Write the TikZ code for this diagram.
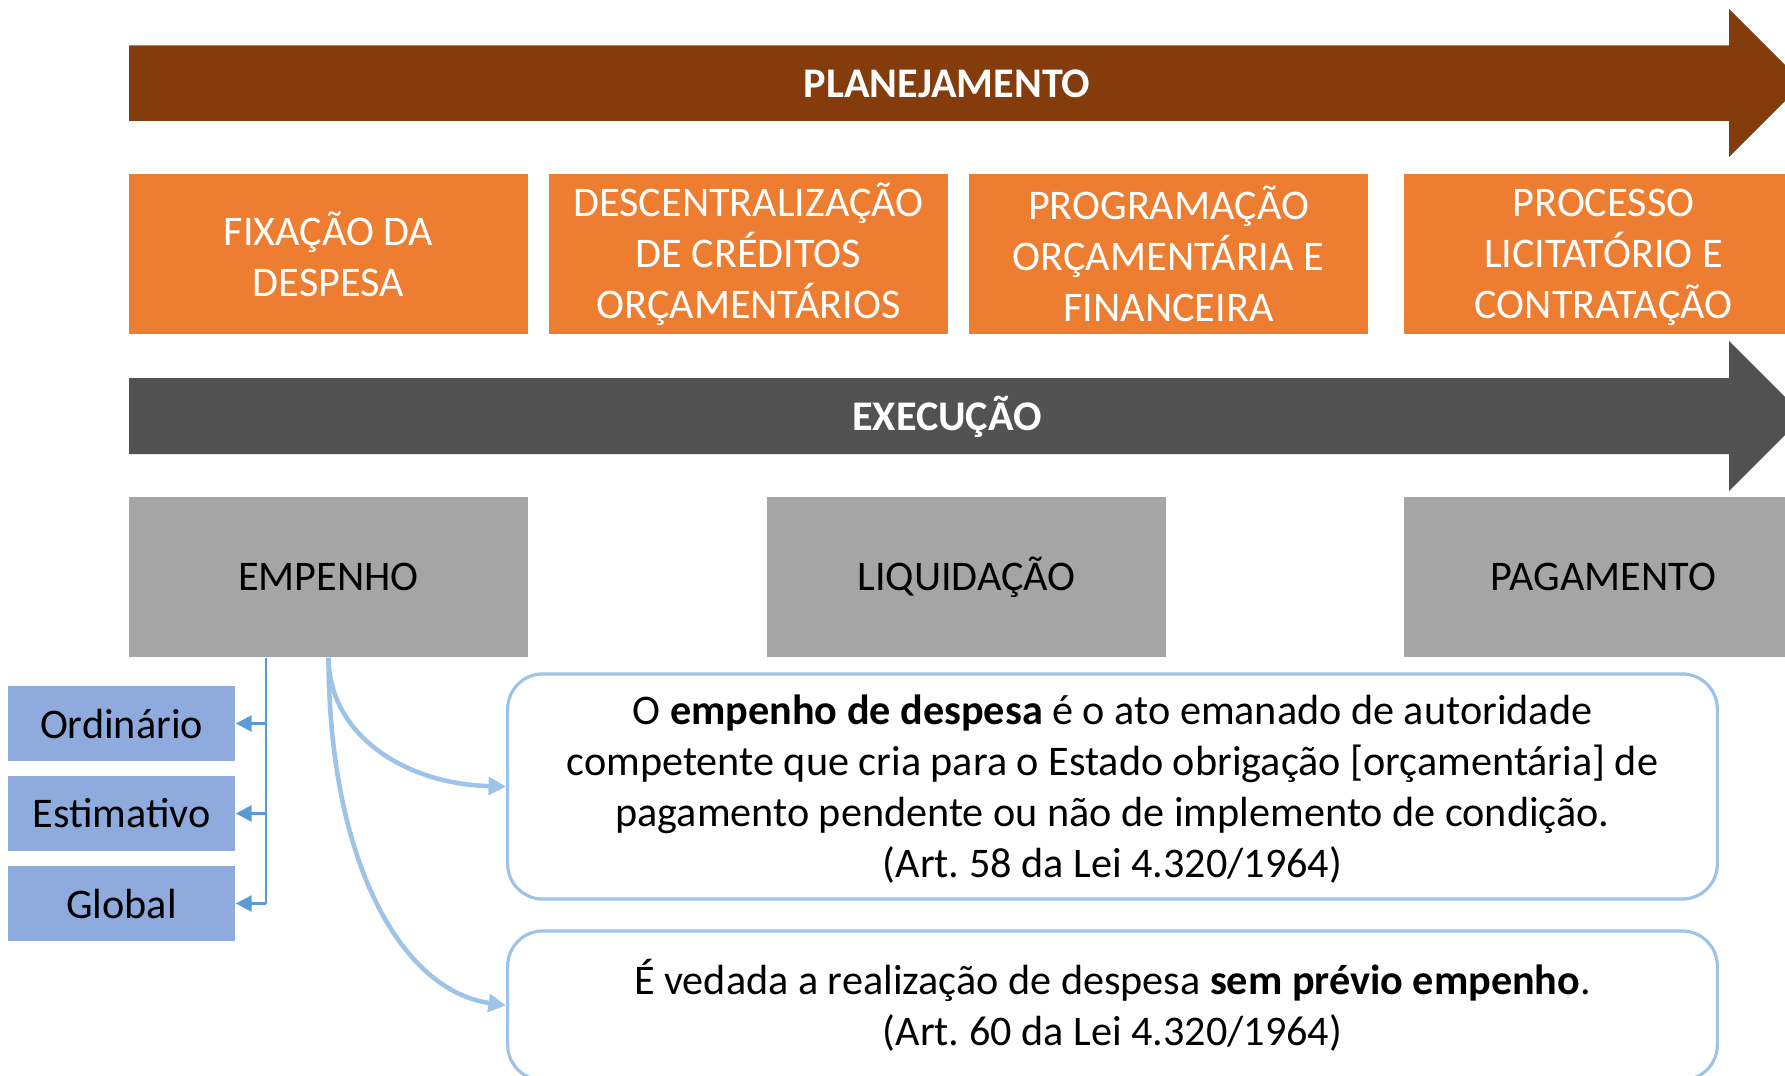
\documentclass[tikz,border=0pt]{standalone}
\usepackage{fontspec}
\setmainfont{Carlito}
\usetikzlibrary{arrows.meta}
\definecolor{brownarrow}{HTML}{843C0C}
\definecolor{darkarrow}{HTML}{525252}
\definecolor{orangebox}{HTML}{ED7D31}
\definecolor{graybox}{HTML}{A5A5A5}
\definecolor{bluebox}{HTML}{8FAADC}
\definecolor{blueline}{HTML}{5B9BD5}
\definecolor{lightblue}{HTML}{9DC3E6}
\newcommand{\semprof}[1]{\raisebox{0pt}[\height][0pt]{#1}}
\frenchspacing
\begin{document}
\begin{tikzpicture}[x=0.01cm,y=-0.01cm,font=\fontsize{12}{14.5}\selectfont,
	etapa/.style={fill=orangebox,text=white,minimum width=3.99cm,minimum height=1.6cm,align=center,inner sep=0pt},
	fase/.style={fill=graybox,minimum width=3.99cm,minimum height=1.6cm,inner sep=0pt},
	tipo/.style={fill=bluebox,minimum width=2.27cm,minimum height=0.755cm,inner sep=0pt},
	texto/.style={draw=lightblue,line width=0.9pt,rounded corners=10pt,minimum width=12.09cm,align=center,inner sep=0pt},
	titulo/.style={text=white,font=\bfseries\fontsize{12}{14.5}\selectfont},
	seta/.style={blueline,line width=0.8pt,-{Triangle[length=4.5pt,width=4.5pt]}},
	curva/.style={lightblue,line width=1.3pt,-{Triangle[length=5pt,width=5pt]}}]
		\useasboundingbox (0,0) rectangle (1785,1076);
		\clip (0,0) rectangle (1785,1076);
		% faixas
		\fill[brownarrow] (129,45.5)--(1729,45.5)--(1729,9)--(1803,83)--(1729,157)--(1729,121)--(129,121)--cycle;
		\node[titulo] (planejamento) at (947,84) {PLANEJAMENTO};
		\fill[darkarrow] (129,378)--(1729,378)--(1729,341)--(1804,416)--(1729,491)--(1729,454)--(129,454)--cycle;
		\node[titulo] (execucao) at (947,417) {EXECUÇÃO};
		% planejamento
		\node[etapa] (fixacao) at (328.5,254) {FIXAÇÃO DA\\DESPESA};
		\node[etapa] (descentralizacao) at (748.5,254) {DESCENTRALIZAÇÃO\\DE CRÉDITOS\\ORÇAMENTÁRIOS};
		\node[etapa] (programacao) at (1168.5,254) {PROGRAMAÇÃO\\ORÇAMENTÁRIA E\\FINANCEIRA};
		\node[etapa] (licitacao) at (1603.5,254) {PROCESSO\\LICITATÓRIO E\\\semprof{CONTRATAÇÃO}};
		% execucao
		\node[fase] (empenho) at (328.5,577) {EMPENHO};
		\node[fase] (liquidacao) at (966.5,577) {LIQUIDAÇÃO};
		\node[fase] (pagamento) at (1603.5,577) {PAGAMENTO};
		% modalidades
		\node[tipo] (ordinario) at (121.5,723.5) {Ordinário};
		\node[tipo] (estimativo) at (121.5,813.5) {Estimativo};
		\node[tipo] (global) at (121.5,903.5) {Global};
		\coordinate (ramo) at (266,0);
		\draw[blueline,line width=0.8pt] (empenho.south -| ramo)--(global.east -| ramo);
		\foreach \t in {ordinario,estimativo,global}
		\draw[seta] (\t.east -| ramo)--(\t.east);
		% textos
		\node[texto,minimum height=2.25cm] (conceito) at (1112.5,786.5)
		{O \textbf{empenho de despesa} é o ato emanado de autoridade\\
			competente que cria para o Estado obrigação [orçamentária] de\\
			pagamento pendente ou não de implemento de condição.\\
			\semprof{(Art. 58 da Lei 4.320/1964)}};
		\node[texto,minimum height=1.49cm] (vedacao) at (1112.5,1005.5)
		{É vedada a realização de despesa \textbf{sem prévio empenho}.\\
			(Art. 60 da Lei 4.320/1964)};
		\draw[curva] (empenho.south) .. controls (329,735) and (405,784) .. (conceito.west);
		\draw[curva] (empenho.south) .. controls (329,860) and (400,990) .. (vedacao.west);
		\end{tikzpicture}
\end{document}
